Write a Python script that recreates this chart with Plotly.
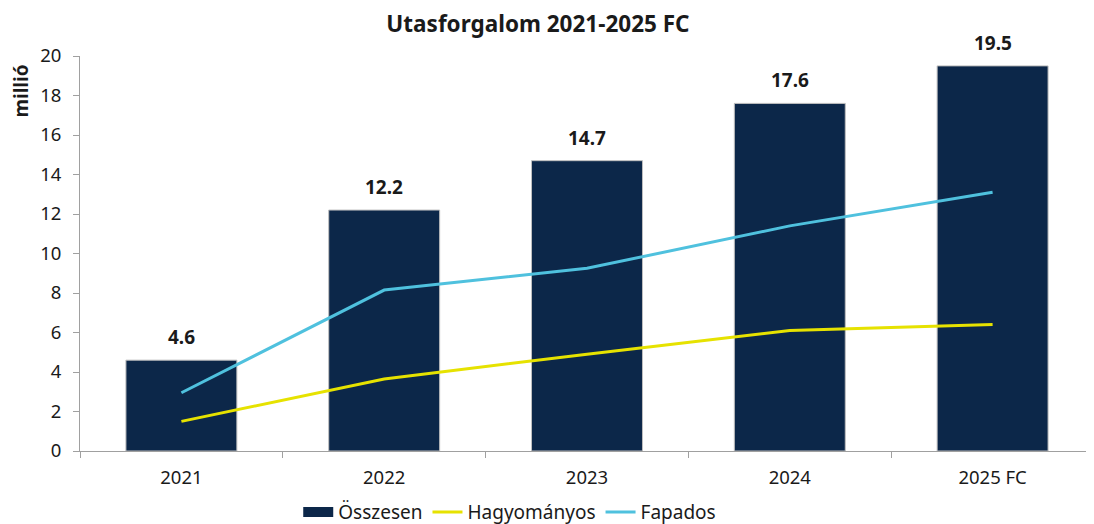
import plotly.graph_objects as go

years = ["2021", "2022", "2023", "2024", "2025 FC"]
osszesen = [4.6, 12.2, 14.7, 17.6, 19.5]
hagyomanyos = [1.5, 3.65, 4.9, 6.1, 6.4]
fapados = [2.95, 8.15, 9.25, 11.4, 13.1]
y_ticks = [0, 2, 4, 6, 8, 10, 12, 14, 16, 18, 20]

FONT = "Noto Sans"
TXT = "#1a1a1a"
NAVY = "#0C2749"

fig = go.Figure()
fig.add_trace(go.Bar(
    x=years, y=osszesen, name="Összesen", showlegend=False,
    marker=dict(color=NAVY, line=dict(color="#BFBFBF", width=1)),
))
# legend swatch for the bars (wide rectangle like the original)
fig.add_trace(go.Scatter(
    x=[years[0]], y=[None], name="Összesen", mode="lines",
    line=dict(color=NAVY, width=10),
))
fig.add_trace(go.Scatter(
    x=years, y=hagyomanyos, name="Hagyományos", mode="lines",
    line=dict(color="#E6E200", width=3),
))
fig.add_trace(go.Scatter(
    x=years, y=fapados, name="Fapados", mode="lines",
    line=dict(color="#4FC1DE", width=3),
))

annotations = [dict(text="<b>millió</b>", xref="paper", yref="y", x=0, xshift=-59,
                    xanchor="center", yanchor="middle",
                    y=18.2, textangle=-90, showarrow=False,
                    font=dict(size=19, family=FONT, color=TXT))]
for i, v in enumerate(osszesen):
    # category index (years look numeric, so use positional index)
    annotations.append(dict(x=i, y=v, xref="x", yref="y", text=f"<b>{v:.1f}</b>",
                            showarrow=False, yanchor="bottom", yshift=8,
                            font=dict(size=19, family=FONT, color=TXT)))

fig.update_layout(
    width=1086, height=516,
    margin=dict(l=72, r=0, t=48, b=73),
    paper_bgcolor="white", plot_bgcolor="white",
    font=dict(family=FONT, size=18, color=TXT),
    title=dict(text="<b>Utasforgalom 2021-2025 FC</b>", x=0.488, xanchor="center",
               y=0.968, yanchor="middle", font=dict(size=22.5, family=FONT, color=TXT)),
    bargap=0.453,
    showlegend=True,
    legend=dict(orientation="h", xref="container", yref="container",
                x=0.462, xanchor="center", y=0.023, yanchor="middle",
                font=dict(size=19, family=FONT, color=TXT), traceorder="normal"),
    annotations=annotations,
)
fig.update_xaxes(
    type="category", categoryorder="array", categoryarray=years,
    range=[-0.5, len(years) - 0.5],
    showline=True, linecolor="#A0A0A0", linewidth=1,
    ticks="outside", tickson="boundaries", ticklen=6, tickcolor="#A0A0A0",
    showgrid=False, tickfont=dict(size=18.5, family=FONT, color=TXT),
    ticklabelstandoff=10, automargin=False,
)
fig.update_yaxes(
    range=[0, 20], tickvals=y_ticks, showline=True, linecolor="#A0A0A0", linewidth=1,
    ticks="outside", ticklen=6, tickcolor="#A0A0A0", showgrid=False, zeroline=False,
    tickfont=dict(size=18.5, family=FONT, color=TXT), ticklabelstandoff=8,
    automargin=False,
)

fig.write_html("out.html")
